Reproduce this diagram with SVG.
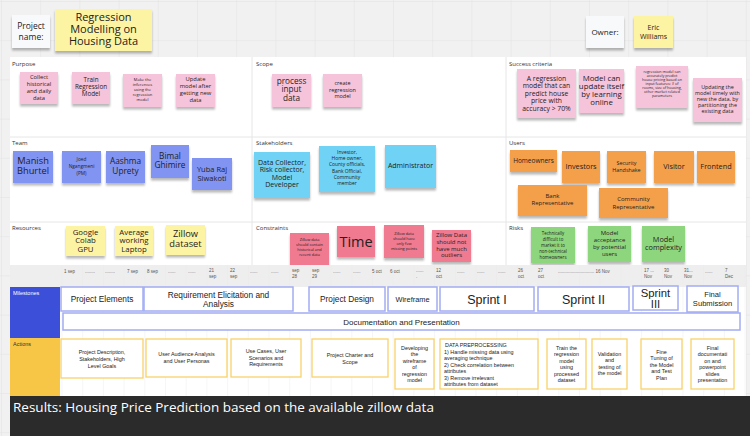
<svg xmlns="http://www.w3.org/2000/svg" width="750" height="436" viewBox="0 0 750 436">
<defs>
<pattern id="grid" width="39.2" height="39.2" patternUnits="userSpaceOnUse" x="1" y="1">
<path d="M0 0H39.2M0 0V39.2" stroke="#e2e2e2" stroke-width="1" fill="none"/>
</pattern>
<pattern id="cols" width="20.7" height="200" patternUnits="userSpaceOnUse" x="61.5" y="0">
<path d="M0 0V200" stroke="#e9e9e9" stroke-width="0.8" fill="none"/>
</pattern>
<filter id="sh" x="-20%" y="-20%" width="140%" height="150%">
<feDropShadow dx="0" dy="2.5" stdDeviation="1.3" flood-color="#000" flood-opacity="0.28"/>
</filter>
</defs>
<style>
.pk{fill:#f6c4da}.bl{fill:#8194f2}.cy{fill:#70d3f6}.or{fill:#f4a04c}.ye{fill:#fdf4a3}.rd{fill:#f07a90}.gr{fill:#8ed67e}.wh{fill:#f8f9fb}
.s{filter:url(#sh)}
.t{font-family:"Open Sans","Noto Sans",sans-serif;fill:#222;text-anchor:middle}
.lb{font-family:"Open Sans","Noto Sans",sans-serif;fill:#333;font-size:6px}
.d{font-family:"Liberation Sans",Arial,sans-serif;fill:#555;font-size:4.5px}
.ms{fill:#fff;stroke:#a3acf2;stroke-width:1.5}
.ac{fill:#fff;stroke:#f7d36a;stroke-width:1.3}
.m{font-family:"Liberation Sans",Arial,sans-serif;fill:#222;text-anchor:middle}
.a{font-family:"Liberation Sans",Arial,sans-serif;fill:#222;font-size:5.4px;text-anchor:middle}
.div{stroke:#e6e6e6;stroke-width:1}
</style>
<rect width="750" height="436" fill="#f1f1f1"/>
<rect width="750" height="436" fill="url(#grid)"/>

<!-- header -->
<g id="project-name-label"><rect class="wh s" x="12" y="15" width="38" height="33"/><text class="t" font-size="8.5"><tspan x="31" y="29">Project</tspan><tspan x="31" y="40">name:</tspan></text></g>
<g id="project-name"><rect class="ye s" x="55" y="9" width="97" height="42"/><text class="t" font-size="11"><tspan x="103.5" y="21">Regression</tspan><tspan x="103.5" y="33">Modelling on</tspan><tspan x="103.5" y="45">Housing Data</tspan></text></g>
<g id="owner-label"><rect class="wh s" x="586" y="16" width="38" height="32"/><text class="t" font-size="8" x="605" y="35">Owner:</text></g>
<g id="owner"><rect class="ye s" x="634" y="16" width="39" height="32"/><text class="t" font-size="7"><tspan x="653.5" y="30">Eric</tspan><tspan x="653.5" y="38.5">Williams</tspan></text></g>

<!-- board -->
<rect x="10" y="57" width="736" height="208" fill="#fff"/>
<line class="div" x1="252" y1="57" x2="252" y2="265"/>
<line class="div" x1="506" y1="57" x2="506" y2="265"/>
<line class="div" x1="10" y1="137" x2="746" y2="137"/>
<line class="div" x1="10" y1="222" x2="746" y2="222"/>
<text class="lb" x="12" y="66">Purpose</text>
<text class="lb" x="256" y="66">Scope</text>
<text class="lb" x="509" y="66">Success criteria</text>
<text class="lb" x="12" y="145">Team</text>
<text class="lb" x="256" y="145">Stakeholders</text>
<text class="lb" x="509" y="145">Users</text>
<text class="lb" x="12" y="230">Resources</text>
<text class="lb" x="256" y="230">Constraints</text>
<text class="lb" x="509" y="230">Risks</text>

<!-- purpose -->
<g id="p1"><rect class="pk s" x="20" y="72" width="38" height="32"/><text class="t" font-size="5.8"><tspan x="39" y="79">Collect</tspan><tspan x="39" y="86">historical</tspan><tspan x="39" y="93">and daily</tspan><tspan x="39" y="100">data</tspan></text></g>
<g id="p2"><rect class="pk s" x="72" y="72" width="38" height="32"/><text class="t" font-size="6.3"><tspan x="91" y="82">Train</tspan><tspan x="91" y="89">Regression</tspan><tspan x="91" y="96">Model</tspan></text></g>
<g id="p3"><rect class="pk s" x="123" y="74" width="39" height="33"/><text class="t" font-size="4"><tspan x="142.5" y="80.5">Make the</tspan><tspan x="142.5" y="85.5">inferences</tspan><tspan x="142.5" y="90.5">using the</tspan><tspan x="142.5" y="95.5">regression</tspan><tspan x="142.5" y="100.5">model</tspan></text></g>
<g id="p4"><rect class="pk s" x="176" y="74" width="39" height="33"/><text class="t" font-size="5.8"><tspan x="195.5" y="81">Update</tspan><tspan x="195.5" y="88">model after</tspan><tspan x="195.5" y="95">getting new</tspan><tspan x="195.5" y="102">data</tspan></text></g>

<!-- scope -->
<g id="s1"><rect class="pk s" x="272" y="74" width="39" height="33"/><text class="t" font-size="8.2"><tspan x="291.5" y="83.5">process</tspan><tspan x="291.5" y="92">input</tspan><tspan x="291.5" y="100.5">data</tspan></text></g>
<g id="s2"><rect class="pk s" x="323" y="74" width="39" height="33"/><text class="t" font-size="5.5"><tspan x="342.5" y="85">create</tspan><tspan x="342.5" y="91.5">regression</tspan><tspan x="342.5" y="98">model</tspan></text></g>

<!-- success criteria -->
<g id="c1"><rect class="pk s" x="517" y="69" width="59" height="49"/><text class="t" font-size="6.8"><tspan x="546.5" y="80.5">A regression</tspan><tspan x="546.5" y="88">model that can</tspan><tspan x="546.5" y="95.5">predict house</tspan><tspan x="546.5" y="103">price with</tspan><tspan x="546.5" y="110.5">accuracy &gt; 70%</tspan></text></g>
<g id="c2"><rect class="pk s" x="579" y="69" width="45" height="44"/><text class="t" font-size="7.8"><tspan x="601.5" y="80.5">Model can</tspan><tspan x="601.5" y="88.8">update itself</tspan><tspan x="601.5" y="97.1">by learning</tspan><tspan x="601.5" y="105.4">online</tspan></text></g>
<g id="c3"><rect class="pk s" x="636" y="66" width="52" height="42"/><text class="t" font-size="3.7"><tspan x="662" y="73">regression model can</tspan><tspan x="662" y="77">accurately predict</tspan><tspan x="662" y="81">house pricing based on</tspan><tspan x="662" y="85">input features: # of</tspan><tspan x="662" y="89">rooms, size of housing,</tspan><tspan x="662" y="93">other market related</tspan><tspan x="662" y="97">parameters</tspan></text></g>
<g id="c4"><rect class="pk s" x="693" y="78" width="49" height="44"/><text class="t" font-size="5.4"><tspan x="717.5" y="89">Updating the</tspan><tspan x="717.5" y="95">model timely with</tspan><tspan x="717.5" y="101">new the data, by</tspan><tspan x="717.5" y="107">partitioning the</tspan><tspan x="717.5" y="113">existing data</tspan></text></g>

<!-- team -->
<g id="t1"><rect class="bl s" x="13" y="151" width="40" height="32"/><text class="t" font-size="9.3"><tspan x="33" y="164">Manish</tspan><tspan x="33" y="174">Bhurtel</tspan></text></g>
<g id="t2"><rect class="bl s" x="62" y="151" width="39" height="32"/><text class="t" font-size="4.8"><tspan x="81.5" y="161">Joed</tspan><tspan x="81.5" y="168">Ngangmeni</tspan><tspan x="81.5" y="175">(PM)</tspan></text></g>
<g id="t3"><rect class="bl s" x="106" y="151" width="39" height="32"/><text class="t" font-size="8.3"><tspan x="125.5" y="164">Aashma</tspan><tspan x="125.5" y="174">Uprety</tspan></text></g>
<g id="t4"><rect class="bl s" x="151" y="145" width="38" height="33"/><text class="t" font-size="8.3"><tspan x="170" y="159">Bimal</tspan><tspan x="170" y="168">Ghimire</tspan></text></g>
<g id="t5"><rect class="bl s" x="192" y="158" width="40" height="32"/><text class="t" font-size="7.5"><tspan x="212" y="171.5">Yuba Raj</tspan><tspan x="212" y="180.5">Siwakoti</tspan></text></g>

<!-- stakeholders -->
<g id="k1"><rect class="cy s" x="254" y="152" width="56" height="46"/><text class="t" font-size="7"><tspan x="282" y="164.5">Data Collector,</tspan><tspan x="282" y="172">Risk collector,</tspan><tspan x="282" y="179.5">Model</tspan><tspan x="282" y="187">Developer</tspan></text></g>
<g id="k2"><rect class="cy s" x="319" y="146" width="56" height="46"/><text class="t" font-size="4.9"><tspan x="347" y="154">Investor,</tspan><tspan x="347" y="160">Home owner,</tspan><tspan x="347" y="166">County officials,</tspan><tspan x="347" y="172.5">Bank Official,</tspan><tspan x="347" y="178.5">Community</tspan><tspan x="347" y="184.5">member</tspan></text></g>
<g id="k3"><rect class="cy s" x="385" y="145" width="51" height="43"/><text class="t" font-size="7" x="410.5" y="167.5">Administrator</text></g>

<!-- users -->
<g id="u1"><rect class="or s" x="510" y="150" width="47" height="22"/><text class="t" font-size="6.5" x="533.5" y="162.5">Homeowners</text></g>
<g id="u2"><rect class="or s" x="562" y="151" width="38" height="32"/><text class="t" font-size="7.3" x="581" y="169">Investors</text></g>
<g id="u3"><rect class="or s" x="607" y="151" width="39" height="32"/><text class="t" font-size="5.4"><tspan x="626.5" y="165">Security</tspan><tspan x="626.5" y="171.5">Handshake</tspan></text></g>
<g id="u4"><rect class="or s" x="654" y="151" width="40" height="32"/><text class="t" font-size="7.3" x="674" y="169">Visitor</text></g>
<g id="u5"><rect class="or s" x="697" y="151" width="38" height="32"/><text class="t" font-size="7.3" x="716" y="169">Frontend</text></g>
<g id="u6"><rect class="or s" x="518" y="185" width="69" height="31"/><text class="t" font-size="6"><tspan x="552.5" y="198">Bank</tspan><tspan x="552.5" y="205">Representative</tspan></text></g>
<g id="u7"><rect class="or s" x="599" y="188" width="69" height="30"/><text class="t" font-size="6"><tspan x="633.5" y="201">Community</tspan><tspan x="633.5" y="208.5">Representative</tspan></text></g>

<!-- resources -->
<g id="r1"><rect class="ye s" x="66" y="226" width="39" height="30"/><text class="t" font-size="7.8"><tspan x="85.5" y="234.5">Google</tspan><tspan x="85.5" y="243">Colab</tspan><tspan x="85.5" y="251.5">GPU</tspan></text></g>
<g id="r2"><rect class="ye s" x="115" y="226" width="38" height="30"/><text class="t" font-size="7.8"><tspan x="134" y="234.5">Average</tspan><tspan x="134" y="243">working</tspan><tspan x="134" y="251.5">Laptop</tspan></text></g>
<g id="r3"><rect class="ye s" x="166" y="225" width="39" height="30"/><text class="t" font-size="9.3"><tspan x="185.5" y="237">Zillow</tspan><tspan x="185.5" y="247">dataset</tspan></text></g>

<!-- constraints -->
<g id="n1"><rect class="rd s" x="290" y="233" width="39" height="32"/><text class="t" font-size="3.9"><tspan x="309.5" y="240.5">Zillow data</tspan><tspan x="309.5" y="245.5">should contain</tspan><tspan x="309.5" y="250.5">historical and</tspan><tspan x="309.5" y="255.5">recent data</tspan></text></g>
<g id="n2"><rect class="rd s" x="337" y="226" width="38" height="31"/><text class="t" font-size="14.5" x="356" y="247">Time</text></g>
<g id="n3"><rect class="rd s" x="384" y="225" width="40" height="33"/><text class="t" font-size="3.9"><tspan x="404" y="234.5">Zillow data</tspan><tspan x="404" y="239.5">should have</tspan><tspan x="404" y="244.5">only few</tspan><tspan x="404" y="249.5">missing points</tspan></text></g>
<g id="n4"><rect class="rd s" x="432" y="230" width="39" height="32"/><text class="t" font-size="6"><tspan x="451.5" y="237">Zillow Data</tspan><tspan x="451.5" y="244">should not</tspan><tspan x="451.5" y="250.5">have much</tspan><tspan x="451.5" y="257">outliers</tspan></text></g>

<!-- risks -->
<g id="k_r1"><rect class="gr s" x="531" y="227" width="44" height="36"/><text class="t" font-size="4.4"><tspan x="553" y="234.5">Technically</tspan><tspan x="553" y="240.5">difficult to</tspan><tspan x="553" y="246.5">market it to</tspan><tspan x="553" y="252.5">non-technical</tspan><tspan x="553" y="258.5">homeowners</tspan></text></g>
<g id="k_r2"><rect class="gr s" x="588" y="226" width="43" height="36"/><text class="t" font-size="6"><tspan x="609.5" y="235">Model</tspan><tspan x="609.5" y="242">acceptance</tspan><tspan x="609.5" y="249">by potential</tspan><tspan x="609.5" y="255.5">users</tspan></text></g>
<g id="k_r3"><rect class="gr s" x="642" y="226" width="43" height="36"/><text class="t" font-size="7.3"><tspan x="663.5" y="241.5">Model</tspan><tspan x="663.5" y="249.5">complexity</tspan></text></g>

<!-- timeline -->
<rect x="10" y="265" width="736" height="22" fill="#eeeeee"/>
<rect x="60" y="287" width="686" height="109" fill="#fff"/>
<rect x="60" y="265" width="686" height="131" fill="url(#cols)"/>
<rect x="10" y="287" width="50" height="51" fill="#3b4fd9"/>
<rect x="10" y="338" width="50" height="58" fill="#f7c647"/>
<text x="13" y="294.5" font-family="Liberation Sans,Arial,sans-serif" font-size="5.5" fill="#fff">Milestones</text>
<text x="13" y="346" font-family="Liberation Sans,Arial,sans-serif" font-size="5.5" fill="#333">Actions</text>

<g id="dates">
<text class="d" x="64" y="272.5">1 sep</text>
<text class="d" x="85" y="272.5">........</text>
<text class="d" x="105" y="272.5">........</text>
<text class="d" x="127" y="272.5">7 sep</text>
<text class="d" x="147" y="272.5">8 sep</text>
<text class="d" x="168" y="272.5">......</text>
<text class="d" x="188" y="272.5">......</text>
<text class="d"><tspan x="209" y="272">21</tspan><tspan x="209" y="278">sep</tspan></text>
<text class="d"><tspan x="230" y="272">22</tspan><tspan x="230" y="278">sep</tspan></text>
<text class="d" x="250" y="272.5">......</text>
<text class="d" x="271" y="272.5">......</text>
<text class="d"><tspan x="292" y="272">sep</tspan><tspan x="292" y="278">28</tspan></text>
<text class="d"><tspan x="312" y="272">sep</tspan><tspan x="312" y="278">29</tspan></text>
<text class="d" x="333" y="272.5">......</text>
<text class="d" x="353" y="272.5">......</text>
<text class="d" x="372" y="272.5">5 oct</text>
<text class="d" x="390" y="272.5">6 oct</text>
<text class="d"><tspan x="416" y="272">......</tspan><tspan x="416" y="278">.</tspan></text>
<text class="d"><tspan x="436" y="272">12</tspan><tspan x="436" y="278">oct</tspan></text>
<text class="d" x="457" y="272.5">......</text>
<text class="d" x="477" y="272.5">......</text>
<text class="d" x="498" y="272.5">......</text>
<text class="d"><tspan x="518" y="272">26</tspan><tspan x="518" y="278">oct</tspan></text>
<text class="d"><tspan x="538" y="272">27</tspan><tspan x="538" y="278">oct</tspan></text>
<text class="d" x="558" y="272.5">............................. 16 Nov</text>
<text class="d"><tspan x="644" y="272">17 ...</tspan><tspan x="644" y="278">Nov</tspan></text>
<text class="d"><tspan x="664" y="272">30</tspan><tspan x="664" y="278">Nov</tspan></text>
<text class="d"><tspan x="684" y="272">31...</tspan><tspan x="684" y="278">Nov</tspan></text>
<text class="d" x="705" y="272.5">......</text>
<text class="d"><tspan x="725" y="272">7</tspan><tspan x="725" y="278">Dec</tspan></text>
</g>

<!-- milestones -->
<g id="m1"><rect class="ms" x="61" y="287" width="82" height="24"/><text class="m" font-size="8.3" x="102" y="302">Project Elements</text></g>
<g id="m2"><rect class="ms" x="144" y="287" width="149" height="24"/><text class="m" font-size="8.3"><tspan x="218.5" y="297.5">Requirement Elicitation and</tspan><tspan x="218.5" y="306.5">Analysis</tspan></text></g>
<g id="m3"><rect class="ms" x="309" y="287" width="76" height="24"/><text class="m" font-size="8.3" x="347" y="302">Project Design</text></g>
<g id="m4"><rect class="ms" x="388" y="287" width="49" height="24"/><text class="m" font-size="7.4" x="412.5" y="301.5">Wireframe</text></g>
<g id="m5"><rect class="ms" x="440" y="287" width="94" height="24"/><text class="m" font-size="12.5" x="487" y="303.5">Sprint I</text></g>
<g id="m6"><rect class="ms" x="538" y="287" width="91" height="24"/><text class="m" font-size="12.5" x="583.5" y="303.5">Sprint II</text></g>
<g id="m7"><rect class="ms" x="633" y="286" width="45" height="24"/><text class="m" font-size="11.3"><tspan x="655.5" y="296.5">Sprint</tspan><tspan x="655.5" y="308.3">III</tspan></text></g>
<g id="m8"><rect class="ms" x="687" y="286" width="51" height="26"/><text class="m" font-size="7.6"><tspan x="712.5" y="297">Final</tspan><tspan x="712.5" y="306">Submission</tspan></text></g>
<g id="m9"><rect class="ms" x="63" y="313" width="677" height="17"/><text class="m" font-size="8" x="401.5" y="324.5">Documentation and Presentation</text></g>

<!-- actions -->
<g id="a1"><rect class="ac" x="61" y="339" width="82" height="39"/><text class="a"><tspan x="102" y="353.5">Project Description,</tspan><tspan x="102" y="360.5">Stakeholders, High</tspan><tspan x="102" y="367.5">Level Goals</tspan></text></g>
<g id="a2"><rect class="ac" x="146" y="339" width="81" height="38"/><text class="a"><tspan x="186.5" y="355.5">User Audience Analysis</tspan><tspan x="186.5" y="362.5">and User Personas</tspan></text></g>
<g id="a3"><rect class="ac" x="231" y="339" width="70" height="38"/><text class="a"><tspan x="266" y="352.5">Use Cases, User</tspan><tspan x="266" y="359.5">Scenarios and</tspan><tspan x="266" y="366">Requirements</tspan></text></g>
<g id="a4"><rect class="ac" x="312" y="339" width="76" height="38"/><text class="a"><tspan x="350" y="356.5">Project Charter and</tspan><tspan x="350" y="363.5">Scope</tspan></text></g>
<g id="a5"><rect class="ac" x="395" y="339" width="39" height="50"/><text class="a"><tspan x="414.5" y="349.5">Developing</tspan><tspan x="414.5" y="356">the</tspan><tspan x="414.5" y="362.5">wireframe</tspan><tspan x="414.5" y="369">of</tspan><tspan x="414.5" y="375.5">regression</tspan><tspan x="414.5" y="382">model</tspan></text></g>
<g id="a6"><rect class="ac" x="440" y="339" width="98" height="50"/><text class="a" style="text-anchor:start"><tspan x="445" y="347">DATA PREPROCESSING</tspan><tspan x="444" y="353.5">1) Handle missing data using</tspan><tspan x="444" y="360">averaging technique</tspan><tspan x="444" y="366.5">2) Check correlation between</tspan><tspan x="444" y="373">attributes</tspan><tspan x="444" y="379.5">3) Remove irrelevant</tspan><tspan x="444" y="386">attributes from dataset</tspan></text></g>
<g id="a7"><rect class="ac" x="547" y="339" width="39" height="50"/><text class="a"><tspan x="566.5" y="349.5">Train the</tspan><tspan x="566.5" y="356">regression</tspan><tspan x="566.5" y="362.5">model</tspan><tspan x="566.5" y="369">using</tspan><tspan x="566.5" y="375.5">processed</tspan><tspan x="566.5" y="382">dataset</tspan></text></g>
<g id="a8"><rect class="ac" x="592" y="339" width="35" height="50"/><text class="a"><tspan x="609.5" y="355.5">Validation</tspan><tspan x="609.5" y="362">and</tspan><tspan x="609.5" y="368.5">testing of</tspan><tspan x="609.5" y="375">the model</tspan></text></g>
<g id="a9"><rect class="ac" x="641" y="339" width="41" height="50"/><text class="a"><tspan x="661.5" y="353.5">Fine</tspan><tspan x="661.5" y="360">Tuning of</tspan><tspan x="661.5" y="366.5">the Model</tspan><tspan x="661.5" y="373">and Test</tspan><tspan x="661.5" y="379.5">Plan</tspan></text></g>
<g id="a10"><rect class="ac" x="691" y="339" width="43" height="50"/><text class="a"><tspan x="712.5" y="349.5">Final</tspan><tspan x="712.5" y="356">documentati</tspan><tspan x="712.5" y="362.5">on and</tspan><tspan x="712.5" y="369">powerpoint</tspan><tspan x="712.5" y="375.5">slides</tspan><tspan x="712.5" y="382">presentation</tspan></text></g>

<!-- results -->
<g id="results"><rect x="10" y="396" width="740" height="40" fill="#2b2b2b"/><text x="13" y="412" font-family="Open Sans,Noto Sans,sans-serif" font-size="13.5" fill="#fff">Results: Housing Price Prediction based on the available zillow data</text></g>
</svg>
